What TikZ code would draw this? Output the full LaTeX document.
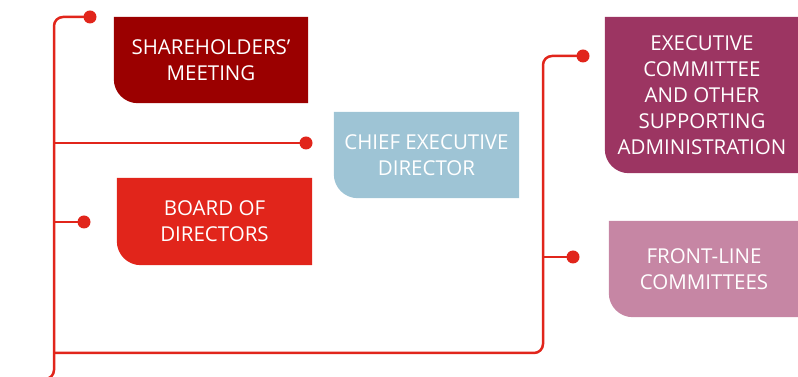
\documentclass[tikz,border=0pt]{standalone}
\usepackage{fontspec}
\setmainfont{Open Sans}
\usetikzlibrary{backgrounds}
\definecolor{lred}{HTML}{E1251B}
\definecolor{sh}{HTML}{9B0000}
\definecolor{ce}{HTML}{9EC4D5}
\definecolor{ex}{HTML}{9C3562}
\definecolor{fl}{HTML}{C686A4}
\tikzset{
  box/.style={inner sep=0pt, text=white, align=center,
    font=\fontsize{20.5}{26}\selectfont},
  link/.style={draw=lred, line width=2.5pt, rounded corners=9pt},
  dotnode/.style={circle, fill=lred, minimum size=13pt, inner sep=0pt},
}
\newcommand{\boxfill}[3]{% name, color, radius
  \fill[#2] (#1.north west) -- (#1.north east) -- (#1.south east)
    -- ([xshift=#3]#1.south west) arc[start angle=270, end angle=180, radius=#3] -- cycle;}
\begin{document}
\begin{tikzpicture}[x=1pt,y=1pt]
\useasboundingbox (0,0) rectangle (798,377);
% boxes
\node[box, minimum width=194pt, minimum height=86pt] (sh) at (211,317) {SHAREHOLDERS'\\MEETING};
\node[box, minimum width=185pt, minimum height=86pt] (ce) at (426.5,222) {CHIEF EXECUTIVE\\DIRECTOR};
\node[box, minimum width=195pt, minimum height=87pt] (bd) at (214.5,155.5) {BOARD OF\\DIRECTORS};
\node[box, minimum width=194pt, minimum height=156pt] (ex) at (702,282) {EXECUTIVE\\COMMITTEE\\AND OTHER\\SUPPORTING\\ADMINISTRATION};
\node[box, minimum width=190pt, minimum height=96pt] (fl) at (704,108) {FRONT-LINE\\COMMITTEES};
\begin{scope}[on background layer]
  \boxfill{sh}{sh}{24pt}
  \boxfill{ce}{ce}{24pt}
  \boxfill{bd}{lred}{24pt}
  \boxfill{ex}{ex}{24pt}
  \boxfill{fl}{fl}{24pt}
\end{scope}
% dots
\node[dotnode] (d1) at (90,360) {};
\node[dotnode] (d2) at (306,234) {};
\node[dotnode] (d3) at (84,155) {};
\node[dotnode] (d4) at (583,321) {};
\node[dotnode] (d5) at (573,120) {};
% junctions
\coordinate (lt) at (54,360);
\coordinate (lb) at (54,-2);
\coordinate (le) at (36,-2);
\coordinate (j2) at (54,234);
\coordinate (j3) at (54,155);
\coordinate (jb) at (54,24);
\coordinate (rb) at (543,24);
\coordinate (rt) at (543,321);
\coordinate (j5) at (543,120);
% connectors
\draw[link] (d1.center) -- (lt) -- (lb) -- (le);
\draw[link] (j2) -- (d2.center);
\draw[link] (j3) -- (d3.center);
\draw[link] (jb) -- (rb) -- (rt) -- (d4.center);
\draw[link] (j5) -- (d5.center);
\end{tikzpicture}
\end{document}
